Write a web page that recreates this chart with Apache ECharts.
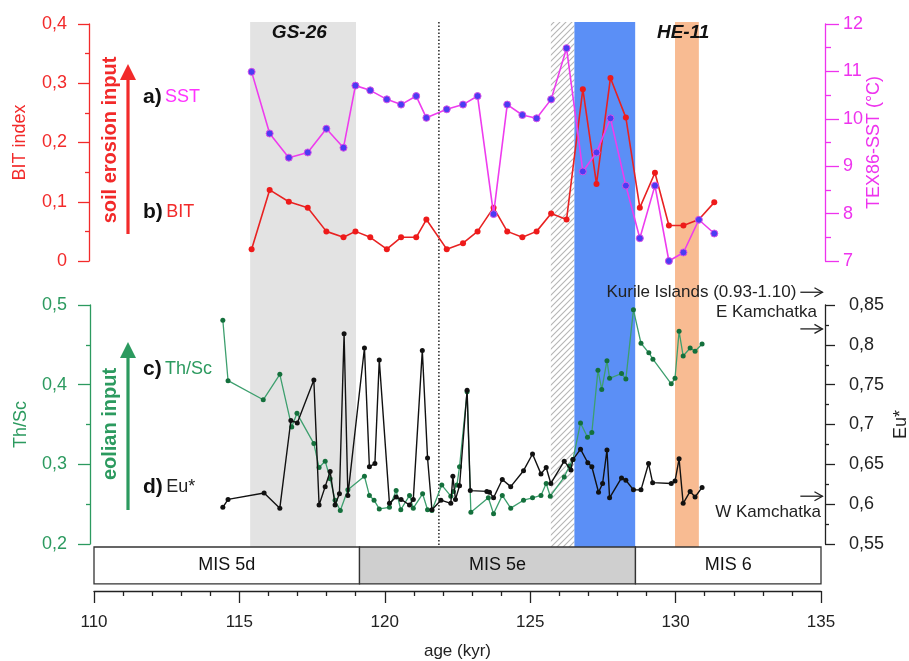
<!DOCTYPE html>
<html>
<head>
<meta charset="utf-8">
<script src="https://cdn.jsdelivr.net/npm/echarts@6/dist/echarts.min.js"></script>
<style>
html, body { margin: 0; padding: 0; background: #fff; }
#chart { width: 909px; height: 661px; }
</style>
</head>
<body>
<div id="chart"></div>
<script>
// ---- data ----
// a) SST and b) BIT share the same samples
const sampleAge = [115.42, 116.04, 116.7, 117.35, 117.99, 118.58, 118.99, 119.5, 120.07, 120.56, 121.08, 121.43, 122.13, 122.69, 123.19, 123.74, 124.21, 124.73, 125.22, 125.72, 126.25, 126.81, 127.28, 127.76, 128.29, 128.77, 129.29, 129.77, 130.27, 130.8, 131.33]
const sstValues = [10.99, 9.69, 9.18, 9.29, 9.79, 9.39, 10.7, 10.6, 10.41, 10.3, 10.48, 10.02, 10.2, 10.3, 10.48, 7.99, 10.3, 10.08, 10.01, 10.41, 11.49, 8.89, 9.29, 10.01, 8.59, 7.48, 8.59, 7.0, 7.18, 7.87, 7.58]
const bitValues = [0.02, 0.12, 0.1, 0.09, 0.05, 0.04, 0.05, 0.04, 0.02, 0.04, 0.04, 0.07, 0.02, 0.03, 0.05, 0.09, 0.05, 0.04, 0.05, 0.08, 0.07, 0.29, 0.13, 0.309, 0.242, 0.09, 0.149, 0.06, 0.06, 0.07, 0.099]

// c) Th/Sc  [age, value]
const thscData = [[114.43, 0.481], [114.61, 0.405], [115.82, 0.381], [116.39, 0.413], [116.8, 0.347], [116.98, 0.364], [117.56, 0.326], [117.74, 0.296], [117.95, 0.304], [118.12, 0.282], [118.29, 0.255], [118.47, 0.242], [118.73, 0.268], [119.3, 0.285], [119.47, 0.261], [119.63, 0.255], [119.81, 0.244], [120.16, 0.246], [120.39, 0.267], [120.55, 0.243], [120.85, 0.261], [120.98, 0.245], [121.3, 0.263], [121.47, 0.243], [121.62, 0.242], [121.96, 0.274], [122.27, 0.26], [122.36, 0.266], [122.48, 0.274], [122.57, 0.297], [122.83, 0.391], [122.96, 0.24], [123.56, 0.258], [123.74, 0.238], [124.04, 0.261], [124.33, 0.245], [124.77, 0.255], [125.08, 0.258], [125.37, 0.261], [125.55, 0.276], [125.69, 0.26], [126.17, 0.284], [126.35, 0.298], [126.47, 0.306], [126.73, 0.352], [126.97, 0.334], [127.12, 0.34], [127.33, 0.418], [127.46, 0.394], [127.64, 0.43], [127.73, 0.408], [128.14, 0.414], [128.29, 0.407], [128.55, 0.494], [128.81, 0.452], [129.08, 0.44], [129.22, 0.432], [129.85, 0.401], [129.98, 0.408], [130.12, 0.467], [130.26, 0.436], [130.5, 0.446], [130.67, 0.442], [130.91, 0.451]]

// d) Eu*  [age, value]
const euData = [[114.43, 0.596], [114.61, 0.606], [115.85, 0.614], [116.39, 0.595], [116.77, 0.705], [116.99, 0.702], [117.56, 0.756], [117.74, 0.599], [117.95, 0.622], [118.12, 0.641], [118.29, 0.599], [118.44, 0.613], [118.6, 0.814], [118.73, 0.611], [119.3, 0.796], [119.47, 0.647], [119.66, 0.651], [119.81, 0.781], [120.16, 0.601], [120.39, 0.609], [120.56, 0.606], [120.85, 0.599], [120.98, 0.606], [121.29, 0.793], [121.47, 0.658], [121.62, 0.593], [121.93, 0.605], [122.27, 0.601], [122.34, 0.635], [122.43, 0.606], [122.57, 0.623], [122.83, 0.743], [122.94, 0.617], [123.51, 0.616], [123.6, 0.615], [123.74, 0.608], [124.04, 0.631], [124.33, 0.622], [124.77, 0.642], [125.08, 0.663], [125.37, 0.638], [125.55, 0.646], [125.71, 0.626], [126.17, 0.654], [126.4, 0.643], [126.47, 0.656], [126.73, 0.669], [126.98, 0.652], [127.12, 0.647], [127.35, 0.615], [127.49, 0.626], [127.64, 0.668], [127.73, 0.608], [128.14, 0.633], [128.29, 0.63], [128.55, 0.618], [128.81, 0.618], [129.07, 0.651], [129.21, 0.627], [129.85, 0.626], [129.98, 0.629], [130.12, 0.657], [130.26, 0.601], [130.5, 0.616], [130.67, 0.609], [130.91, 0.621]]

// shaded intervals: GS-26, hatched, blue, HE-11
const bandStart = [115.37, 125.71, 126.52, 129.98]
const bandEnd = [119.01, 126.52, 128.61, 130.8]
const eventNames = ['GS-26', 'HE-11']
const eventAges = [117.06, 130.26]
const ligAge = 121.86

// marine isotope stages
const misNames = ['MIS 5d', 'MIS 5e', 'MIS 6']
const misBounds = [110, 119.13, 128.62, 135]

// Eu* reference values (Kurile is off scale)
const refNames = ['Kurile Islands (0.93-1.10)', 'E Kamchatka', 'W Kamchatka']
const refValues = [0.866, 0.82, 0.61]

// ---- styles ----
const font = 'Liberation Sans, Arial, sans-serif'
const red = '#f22a2a',
    magenta = '#ee33ee',
    green = '#2c9a5f',
    dark = '#222'

const hatch = document.createElement('canvas')
hatch.width = 6
hatch.height = 6
const hctx = hatch.getContext('2d')
hctx.strokeStyle = '#b5b5b5'
hctx.lineWidth = 1.1
hctx.beginPath()
hctx.moveTo(0, 6)
hctx.lineTo(6, 0)
hctx.moveTo(-1, 1)
hctx.lineTo(1, -1)
hctx.moveTo(5, 7)
hctx.lineTo(7, 5)
hctx.stroke()
const bandFills = ['#e3e3e3', { image: hatch, repeat: 'repeat' }, '#5b8ff6', '#f8bb92']
const misFills = ['#fff', '#cfcfcf', '#fff']

const fmt = (v) => String(v).replace('.', ',')

const yAxisBase = (color, labelMargin, tickLen, minorLen) => ({
    type: 'value',
    axisLine: { show: true, lineStyle: { color: color, width: 1.3 } },
    axisTick: { show: true, length: tickLen, lineStyle: { color: color, width: 1.3 } },
    minorTick: { show: true, splitNumber: 2, length: minorLen, lineStyle: { color: color, width: 1.3 } },
    splitLine: { show: false },
    axisLabel: { color: color, fontSize: 18, fontFamily: font, margin: labelMargin, formatter: fmt },
    nameLocation: 'middle',
    nameMoveOverlap: false,
    nameTextStyle: { color: color, fontSize: 18, fontFamily: font },
})

const hiddenX = (gridIndex) => ({ type: 'value', gridIndex: gridIndex, min: 110, max: 135, show: false })
const gridBox = (top, height) => ({ left: 94, right: 88, top: top, height: height, containLabel: false, outerBoundsMode: 'none' })

const chart = echarts.init(document.getElementById('chart'), null, { renderer: 'canvas' })

const option = {
    animation: false,
    backgroundColor: '#fff',
    grid: [gridBox(24, 237), gridBox(305, 239), gridBox(547, 44), gridBox(22, 525)],
    xAxis: [
        hiddenX(0),
        hiddenX(1),
        {
            type: 'value',
            gridIndex: 2,
            min: 110,
            max: 135,
            interval: 5,
            position: 'bottom',
            axisLine: { show: true, lineStyle: { color: dark, width: 1.3 } },
            axisTick: { show: true, length: 12, lineStyle: { color: dark, width: 1.3 } },
            minorTick: { show: true, splitNumber: 5, length: 5, lineStyle: { color: dark, width: 1.3 } },
            splitLine: { show: false },
            axisLabel: { color: dark, fontSize: 17, fontFamily: font, margin: 23 },
            name: 'age (kyr)',
            nameLocation: 'middle',
            nameGap: 52,
            nameMoveOverlap: false,
            nameTextStyle: { color: dark, fontSize: 17, fontFamily: font },
        },
        hiddenX(3),
    ],
    yAxis: [
        Object.assign(yAxisBase(red, 22, 11, 4), {
            gridIndex: 0, position: 'left', offset: 5, min: 0, max: 0.4, interval: 0.1, name: 'BIT index', nameGap: 60,
        }),
        Object.assign(yAxisBase(magenta, 18, 14, 6), {
            gridIndex: 0, position: 'right', offset: 4, min: 7, max: 12, interval: 1, name: 'TEX86-SST (°C)', nameGap: 40,
        }),
        Object.assign(yAxisBase(green, 23, 12, 4), {
            gridIndex: 1, position: 'left', offset: 4, min: 0.2, max: 0.5, interval: 0.1, name: 'Th/Sc', nameGap: 60,
        }),
        Object.assign(yAxisBase(dark, 24, 10, 4), {
            gridIndex: 1, position: 'right', offset: 4, min: 0.55, max: 0.85, interval: 0.05, name: 'Eu*', nameGap: 67,
        }),
        { type: 'value', gridIndex: 2, min: 0, max: 1, show: false },
        { type: 'value', gridIndex: 3, min: 0, max: 1, show: false },
    ],
    series: [
        {
            // shaded intervals
            type: 'custom',
            xAxisIndex: 3,
            yAxisIndex: 5,
            silent: true,
            z: 0,
            data: bandStart.map((s, i) => [s, bandEnd[i]]),
            encode: { x: [0, 1] },
            renderItem: (params, api) => {
                const i = params.dataIndex
                const p0 = api.coord([api.value(0), 1])
                const p1 = api.coord([api.value(1), 0])
                return {
                    type: 'rect',
                    shape: { x: p0[0], y: p0[1], width: p1[0] - p0[0], height: p1[1] - p0[1] },
                    style: { fill: bandFills[i] },
                }
            },
        },
        {
            // dotted line
            type: 'custom',
            xAxisIndex: 3,
            yAxisIndex: 5,
            silent: true,
            z: 1,
            data: [[ligAge]],
            encode: { x: 0 },
            renderItem: (params, api) => {
                const p0 = api.coord([api.value(0), 1])
                const p1 = api.coord([api.value(0), 0])
                return {
                    type: 'line',
                    shape: { x1: p0[0], y1: p0[1], x2: p1[0], y2: p1[1] },
                    style: { stroke: '#333', lineWidth: 1.6, lineDash: [1.5, 2] },
                }
            },
        },
        {
            // event labels
            type: 'custom',
            xAxisIndex: 3,
            yAxisIndex: 5,
            silent: true,
            z: 2,
            data: eventAges.map((a) => [a]),
            encode: { x: 0 },
            renderItem: (params, api) => {
                const p = api.coord([api.value(0), 1])
                return {
                    type: 'text',
                    x: p[0],
                    y: p[1] + 11,
                    style: {
                        text: eventNames[params.dataIndex],
                        font: 'italic bold 19px ' + font,
                        fill: '#111',
                        align: 'center',
                        verticalAlign: 'middle',
                    },
                }
            },
        },
        {
            // MIS boxes
            type: 'custom',
            xAxisIndex: 2,
            yAxisIndex: 4,
            silent: true,
            z: 2,
            data: misNames.map((n, i) => [misBounds[i], misBounds[i + 1]]),
            encode: { x: [0, 1] },
            renderItem: (params, api) => {
                const i = params.dataIndex
                const p0 = api.coord([api.value(0), 1])
                const p1 = api.coord([api.value(1), 0.16])
                return {
                    type: 'group',
                    children: [
                        {
                            type: 'rect',
                            shape: { x: p0[0], y: p0[1], width: p1[0] - p0[0], height: p1[1] - p0[1] },
                            style: { fill: misFills[i], stroke: '#333', lineWidth: 1.3 },
                        },
                        {
                            type: 'text',
                            x: (p0[0] + p1[0]) / 2,
                            y: (p0[1] + p1[1]) / 2,
                            style: {
                                text: misNames[i],
                                font: '18px ' + font,
                                fill: '#111',
                                align: 'center',
                                verticalAlign: 'middle',
                            },
                        },
                    ],
                }
            },
        },
        {
            name: 'BIT',
            type: 'line',
            xAxisIndex: 0,
            yAxisIndex: 0,
            data: sampleAge.map((a, i) => [a, bitValues[i]]),
            symbol: 'circle',
            symbolSize: 6,
            lineStyle: { color: '#e82222', width: 1.6 },
            itemStyle: { color: '#ee1a1a' },
            z: 5,
        },
        {
            name: 'SST',
            type: 'line',
            xAxisIndex: 0,
            yAxisIndex: 1,
            data: sampleAge.map((a, i) => [a, sstValues[i]]),
            symbol: 'circle',
            symbolSize: 7,
            lineStyle: { color: '#ee3cee', width: 1.6 },
            itemStyle: { color: '#4b3cf2', borderColor: '#d850e8', borderWidth: 1 },
            z: 6,
        },
        {
            name: 'Th/Sc',
            type: 'line',
            xAxisIndex: 1,
            yAxisIndex: 2,
            data: thscData,
            symbol: 'circle',
            symbolSize: 5,
            lineStyle: { color: '#3d9f6e', width: 1.3 },
            itemStyle: { color: '#14703c' },
            z: 5,
        },
        {
            name: 'Eu*',
            type: 'line',
            xAxisIndex: 1,
            yAxisIndex: 3,
            data: euData,
            symbol: 'circle',
            symbolSize: 5,
            lineStyle: { color: '#111', width: 1.4 },
            itemStyle: { color: '#111' },
            z: 6,
        },
    ],
}

chart.setOption(option)

// ---- annotations ----
const vText = (x, y, text, color) => ({
    type: 'text',
    x: x,
    y: y,
    rotation: Math.PI / 2,
    silent: true,
    style: { text: text, font: 'bold 20px ' + font, fill: color, align: 'center', verticalAlign: 'middle' },
})
const bigArrow = (x, yTop, yBottom, color) => ({
    type: 'group',
    silent: true,
    children: [
        { type: 'line', shape: { x1: x, y1: yBottom, x2: x, y2: yTop + 10 }, style: { stroke: color, lineWidth: 3.2 } },
        { type: 'polygon', shape: { points: [[x, yTop], [x - 8, yTop + 16], [x + 8, yTop + 16]] }, style: { fill: color } },
    ],
})
const panelLabel = (y, letter, text, color) => ({
    type: 'text',
    x: 143,
    y: y,
    silent: true,
    style: {
        text: '{l|' + letter + '} {t|' + text + '}',
        verticalAlign: 'middle',
        rich: {
            l: { font: 'bold 21px ' + font, fill: '#111' },
            t: { font: '18px ' + font, fill: color },
        },
    },
})

const ax0 = chart.convertToPixel({ xAxisIndex: 1 }, 134.29)
const ax1 = chart.convertToPixel({ xAxisIndex: 1 }, 135.05)
const refY = refValues.map((v) => chart.convertToPixel({ yAxisIndex: 3 }, v))
const refArrow = (y) => ({
    type: 'group',
    silent: true,
    children: [
        { type: 'line', shape: { x1: ax0, y1: y, x2: ax1, y2: y }, style: { stroke: dark, lineWidth: 1.3 } },
        { type: 'polyline', shape: { points: [[ax1 - 8, y - 4.5], [ax1, y], [ax1 - 8, y + 4.5]] }, style: { stroke: dark, lineWidth: 1.3, fill: null } },
    ],
})
const refText = (x, y, text) => ({
    type: 'text',
    x: x,
    y: y,
    silent: true,
    style: { text: text, font: '17px ' + font, fill: dark, align: 'right', verticalAlign: 'middle' },
})

chart.setOption({
    graphic: [
        vText(110, 140, 'soil erosion input', red),
        bigArrow(128, 64, 234, red),
        vText(110, 424, 'eolian input', green),
        bigArrow(128, 342, 510, green),
        panelLabel(97, 'a)', 'SST', '#ff33ff'),
        panelLabel(212, 'b)', 'BIT', red),
        panelLabel(369, 'c)', 'Th/Sc', green),
        panelLabel(487, 'd)', 'Eu*', dark),
        refArrow(refY[0]),
        refArrow(refY[1]),
        refArrow(refY[2]),
        refText(ax0 - 4, refY[0], refNames[0]),
        refText(817, refY[1] - 17, refNames[1]),
        refText(821, refY[2] + 16, refNames[2]),
    ],
})
</script>
</body>
</html>
